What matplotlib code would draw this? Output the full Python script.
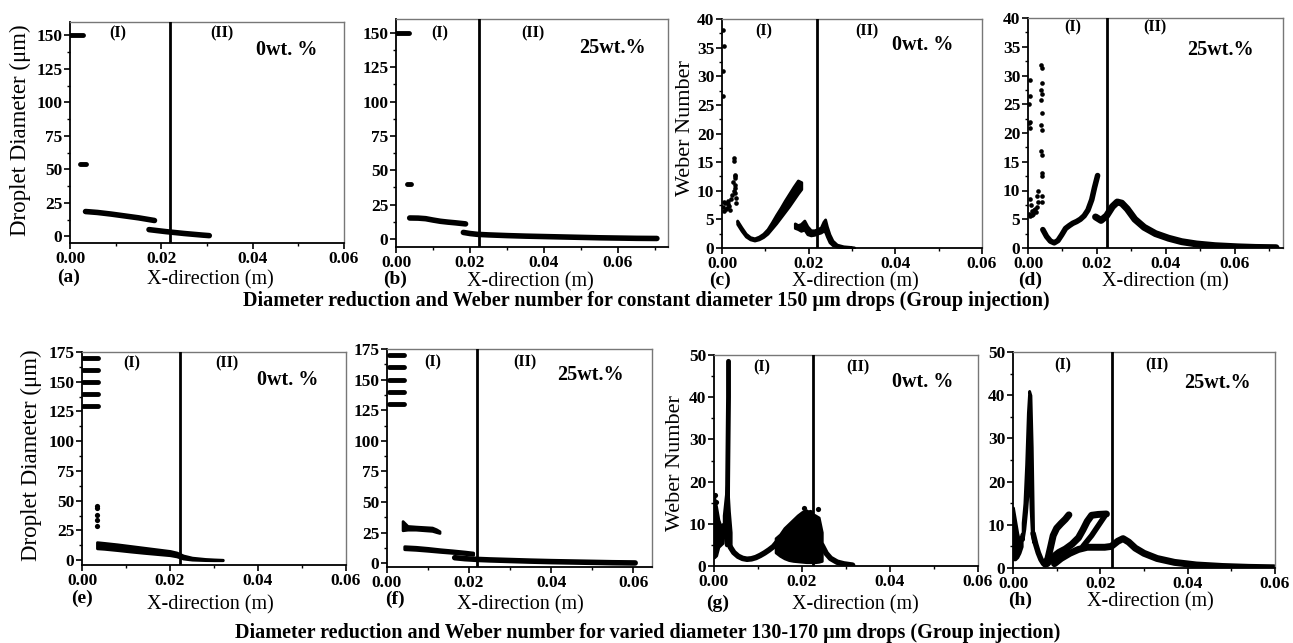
import matplotlib.pyplot as plt
from matplotlib.ticker import MultipleLocator, FormatStrFormatter

W, H = 1293, 643

# ---------------- data ----------------
# (a) diameter, constant 150 um, 0 wt.%
A_INJ_X = [0.0, 0.0028]
A_INJ_Y = [150, 150]
A_DOT_X = [0.0021, 0.0034]
A_DOT_Y = [54, 54]
A_B1_X = [0.0034, 0.006, 0.009, 0.012, 0.015, 0.0185]
A_B1_Y = [18.5, 17.8, 16.6, 15.2, 13.8, 11.8]
A_B2_X = [0.0173, 0.019, 0.021, 0.023, 0.025, 0.027, 0.029, 0.0305]
A_B2_Y = [5.0, 4.3, 3.5, 2.8, 2.1, 1.5, 0.9, 0.5]

# (b) diameter, constant 150 um, 25 wt.%
B_INJ_X = [0.0, 0.0035]
B_INJ_Y = [150, 150]
B_DOT_X = [0.0030, 0.0040]
B_DOT_Y = [40, 40]
B_B1_X = [0.0037, 0.006, 0.008, 0.010, 0.012, 0.014, 0.016, 0.0188]
B_B1_Y = [15.3, 15.2, 14.8, 13.8, 12.9, 12.3, 11.8, 11.0]
B_B2_X = [0.0182, 0.020, 0.022, 0.025, 0.030, 0.035, 0.040, 0.045, 0.050, 0.055, 0.060, 0.065, 0.0705]
B_B2_Y = [4.8, 4.0, 3.4, 3.0, 2.5, 2.1, 1.8, 1.5, 1.2, 0.9, 0.7, 0.5, 0.4]

# (c) Weber number, constant 150 um, 0 wt.%
C_DOT_X = [0.0003, 0.0004, 0.0003, 0.0003,
           0.0002, 0.0005, 0.0008, 0.0011, 0.0014, 0.0017, 0.0020, 0.0004, 0.0009, 0.0013, 0.0018, 0.0022,
           0.0027, 0.0028, 0.0029, 0.0030, 0.0031, 0.0029, 0.0030, 0.0032, 0.0028, 0.0031, 0.0033, 0.0026]
C_DOT_Y = [38.0, 35.2, 31.0, 26.5,
           7.2, 6.5, 7.8, 7.0, 8.2, 7.4, 8.6, 8.0, 6.8, 7.6, 6.6, 9.2,
           15.8, 15.2, 12.8, 12.2, 11.0, 10.4, 9.6, 8.8, 9.9, 12.6, 7.8, 11.6]
C_B1_X = [0.0035, 0.0045, 0.0055, 0.0065, 0.0075, 0.0085, 0.0095, 0.0105,
          0.0115, 0.0125, 0.0135, 0.0145, 0.0155, 0.0165, 0.0175, 0.0183]
C_B1_LO = [4.2, 3.0, 2.0, 1.5, 1.3, 1.5, 1.9, 2.5, 3.4, 4.3, 5.3, 6.3, 7.3, 8.4, 9.5, 10.3]
C_B1_HI = [4.8, 3.6, 2.5, 1.9, 1.7, 2.0, 2.5, 3.3, 4.5, 5.8, 7.0, 8.3, 9.5, 10.7, 11.8, 11.5]
C_B2_X = [0.0168, 0.0175, 0.0182, 0.0190, 0.0197, 0.0205, 0.0213, 0.0220, 0.0228,
          0.0234, 0.0238, 0.0242, 0.0248, 0.0255, 0.0265, 0.0280, 0.0295, 0.0305]
C_B2_LO = [3.5, 3.3, 3.0, 3.2, 2.4, 2.2, 2.3, 2.5, 2.7, 3.0, 2.8, 2.0, 1.0, 0.5, 0.25, 0.1, 0.05, 0.0]
C_B2_HI = [4.3, 4.0, 4.2, 4.8, 3.8, 3.1, 3.1, 3.3, 3.6, 4.6, 5.0, 3.8, 2.4, 1.3, 0.6, 0.3, 0.2, 0.1]

# (d) Weber number, constant 150 um, 25 wt.%
D_DOT_X = [0.0005, 0.0005, 0.0004, 0.0005, 0.0004, 0.0005,
           0.0003, 0.0007, 0.0011, 0.0015, 0.0019, 0.0023, 0.0027, 0.0030, 0.0005, 0.0009, 0.0013, 0.0017, 0.0026, 0.0029,
           0.0039, 0.0040, 0.0040, 0.0039, 0.0040, 0.0039, 0.0040, 0.0039, 0.0040, 0.0039, 0.0040, 0.0041, 0.0041, 0.0040, 0.0041]
D_DOT_Y = [29.2, 26.4, 25.0, 22.0, 21.7, 20.9,
           6.0, 5.6, 6.4, 6.0, 6.8, 6.2, 7.2, 8.0, 8.6, 7.4, 5.8, 6.6, 9.0, 10.0,
           31.9, 31.3, 28.7, 27.5, 26.7, 25.8, 23.5, 21.4, 20.6, 16.8, 16.2, 13.0, 12.5, 9.0, 8.0]
D_B1_X = [0.0043, 0.0054, 0.0065, 0.0076, 0.0087, 0.0098, 0.0109, 0.0120,
          0.0130, 0.0141, 0.0152, 0.0163, 0.0174, 0.0185, 0.0193, 0.0202]
D_B1_Y = [3.2, 2.0, 1.2, 0.9, 1.3, 2.3, 3.4, 3.9, 4.3, 4.6, 5.0, 5.6, 6.6, 8.4, 10.5, 12.6]
D_B2_X = [0.0196, 0.0212, 0.0228, 0.0245, 0.0259, 0.0272, 0.0288, 0.0310, 0.0337,
          0.0370, 0.0408, 0.0446, 0.0489, 0.0543, 0.0609, 0.0660, 0.0720]
D_B2_Y = [5.4, 4.8, 5.6, 7.2, 8.0, 7.8, 6.8, 5.0, 3.6, 2.5, 1.7, 1.1, 0.7, 0.4, 0.2, 0.1, 0.05]

# (e) diameter, varied 130-170 um, 0 wt.%
E_INJ_Y = [130, 140, 150, 160, 170]
E_INJ_X0, E_INJ_X1 = 0.0003, 0.0036
E_DOT_X = [0.0033, 0.0033, 0.0033, 0.0033, 0.0033]
E_DOT_Y = [46.0, 43.5, 38.4, 33.6, 28.8]
E_B_X = [0.0034, 0.005, 0.008, 0.011, 0.014, 0.017, 0.020, 0.0215, 0.023, 0.025, 0.028, 0.030, 0.032]
E_B_LO = [10.0, 9.6, 8.5, 7.3, 6.2, 5.2, 4.2, 3.2, 1.4, 0.5, 0.1, 0.0, 0.0]
E_B_HI = [15.2, 14.6, 13.4, 12.0, 10.6, 9.2, 7.8, 6.5, 4.0, 2.2, 1.1, 0.7, 0.4]

# (f) diameter, varied 130-170 um, 25 wt.%
F_INJ_Y = [130, 140, 150, 160, 170]
F_INJ_X0, F_INJ_X1 = 0.0004, 0.0042
F_UP_X = [0.0038, 0.005, 0.007, 0.009, 0.011, 0.012, 0.0128]
F_UP_LO = [27.0, 27.5, 27.5, 27.0, 26.5, 25.5, 24.8]
F_UP_HI = [34.5, 30.5, 30.0, 29.6, 29.2, 27.8, 26.2]
F_MID_X = [0.0042, 0.007, 0.010, 0.013, 0.016, 0.019, 0.0210]
F_MID_LO = [11.5, 11.0, 10.2, 9.3, 8.5, 7.6, 7.0]
F_MID_HI = [14.0, 13.5, 12.6, 11.5, 10.6, 9.6, 8.8]
F_LOW_X = [0.0165, 0.019, 0.022, 0.025, 0.030, 0.035, 0.040, 0.045, 0.050, 0.055, 0.0605]
F_LOW_Y = [4.6, 3.8, 3.2, 2.8, 2.3, 1.8, 1.4, 1.1, 0.8, 0.5, 0.3]

# (g) Weber number, varied 130-170 um, 0 wt.%
G_CL_X = [0.0, 0.0005, 0.0010, 0.0015, 0.0020]
G_CL_LO = [2.0, 2.5, 4.5, 5.0, 5.5]
G_CL_HI = [16.5, 14.0, 11.0, 9.5, 10.0]
G_COL_X = [0.0030, 0.0031, 0.0032, 0.0033, 0.0033]
G_COL_Y = [5.0, 20.0, 30.0, 40.0, 48.5]
G_BASE_X = [0.0022, 0.0026, 0.0030, 0.0034, 0.0038]
G_BASE_LO = [8.0, 6.0, 5.0, 5.0, 4.5]
G_BASE_HI = [12.0, 16.0, 20.0, 13.0, 8.0]
G_B1_X = [0.0037, 0.0045, 0.0055, 0.0065, 0.0075, 0.0085, 0.0095, 0.0105, 0.0115, 0.0125, 0.0135, 0.0143]
G_B1_Y = [4.5, 3.2, 2.3, 1.8, 1.6, 1.7, 2.0, 2.5, 3.1, 3.8, 4.6, 5.6]
G_CLOUD_X = [0.0140, 0.0150, 0.0160, 0.0170, 0.0180, 0.0190, 0.0200, 0.0210, 0.0220, 0.0230, 0.0238, 0.0245]
G_CLOUD_LO = [3.2, 2.4, 1.8, 1.4, 1.2, 1.1, 1.0, 0.9, 0.9, 0.9, 1.0, 1.2]
G_CLOUD_HI = [6.6, 7.5, 9.0, 10.0, 11.0, 12.0, 12.8, 13.2, 12.5, 12.0, 11.5, 8.0]
G_TAIL_X = [0.0245, 0.0255, 0.0265, 0.0280, 0.0295, 0.0315]
G_TAIL_Y = [5.0, 3.0, 1.8, 0.9, 0.5, 0.2]
G_DOT_X = [0.0205, 0.0236, 0.0218, 0.0226, 0.0002, 0.0004]
G_DOT_Y = [13.8, 13.4, 12.8, 11.8, 16.8, 15.2]

# (h) Weber number, varied 130-170 um, 25 wt.%
H_CL_X = [0.0, 0.0005, 0.0010, 0.0015, 0.0020]
H_CL_LO = [2.0, 2.0, 2.5, 3.5, 5.0]
H_CL_HI = [14.0, 11.0, 8.0, 6.0, 8.0]
H_COL_X = [0.0022, 0.0026, 0.0030, 0.0034, 0.0037, 0.0040, 0.0043, 0.0046]
H_COL_LO = [6.5, 9.0, 13.0, 18.0, 25.0, 14.0, 8.0, 6.0]
H_COL_HI = [10.5, 15.0, 24.0, 36.0, 41.0, 40.0, 28.0, 9.0]
H_DN_X = [0.0046, 0.0052, 0.0058, 0.0064, 0.0070, 0.0074]
H_DN_Y = [8.0, 5.5, 3.5, 2.0, 1.0, 0.8]
H_B1_X = [0.0074, 0.0080, 0.0086, 0.0092, 0.0100, 0.0110, 0.0120, 0.0128]
H_B1_Y = [0.9, 2.2, 4.8, 7.5, 9.2, 10.3, 11.3, 12.3]
H_B2_X = [0.0078, 0.0090, 0.0105, 0.0120, 0.0135, 0.0150, 0.0160, 0.0170, 0.0180, 0.0195, 0.0214]
H_B2_Y = [1.0, 2.4, 3.6, 4.4, 5.5, 7.0, 8.8, 10.8, 12.2, 12.4, 12.5]
H_B3_X = [0.0095, 0.0110, 0.0130, 0.0150, 0.0170, 0.0190, 0.0210, 0.0225, 0.0240, 0.0252,
          0.0265, 0.0280, 0.0300, 0.0330, 0.0370, 0.0420, 0.0480, 0.0540, 0.0598]
H_B3_Y = [1.0, 2.2, 3.4, 4.3, 4.8, 4.8, 4.8, 5.0, 6.2, 6.8, 6.0, 4.6, 3.4, 2.2, 1.3, 0.7, 0.35, 0.15, 0.05]
H_B4_X = [0.0160, 0.0180, 0.0200, 0.0210]
H_B4_Y = [5.0, 7.5, 10.5, 12.0]

CAPTION_TOP = 'Diameter reduction and Weber number for constant diameter 150 \u03bcm drops (Group injection)'
CAPTION_BOT = 'Diameter reduction and Weber number for varied diameter 130-170 \u03bcm drops (Group injection)'

# ---------------- drawing ----------------
plt.rcParams['font.family'] = ['Liberation Serif', 'DejaVu Serif']
plt.rcParams['font.weight'] = 'bold'
plt.rcParams['axes.linewidth'] = 1.3

fig = plt.figure(figsize=(W / 100, H / 100), dpi=100)


def px_axes(l, t, r, b):
    return fig.add_axes([l / W, 1 - b / H, (r - l) / W, (b - t) / H])


def ftext(x, y, s, **kw):
    fig.text(x / W, 1 - y / H, s, ha='center', va='center', **kw)


def line(ax, x, y, lw=3.5):
    ax.plot(x, y, color='k', lw=lw, solid_capstyle='round', solid_joinstyle='round', zorder=2)


def band(ax, x, lo, hi, lw=2.0):
    ax.fill_between(x, lo, hi, facecolor='k', edgecolor='k', lw=lw, joinstyle='round', zorder=2)


def dots(ax, x, y, s=11):
    ax.scatter(x, y, s=s, color='k', lw=0, zorder=2)


def style(ax, xmax, ylim, ymajor, divider):
    ax.set_xlim(0, xmax)
    ax.set_ylim(*ylim)
    ax.xaxis.set_major_locator(MultipleLocator(0.02))
    ax.xaxis.set_minor_locator(MultipleLocator(0.01))
    ax.xaxis.set_major_formatter(FormatStrFormatter('%.2f'))
    ax.yaxis.set_major_locator(MultipleLocator(ymajor))
    ax.yaxis.set_minor_locator(MultipleLocator(ymajor / 2))
    ax.tick_params(which='major', direction='out', length=4, width=1.2, labelsize=12.5, pad=1.5)
    ax.tick_params(which='minor', direction='out', length=2.5, width=1.0)
    for s in ('top', 'right'):
        ax.spines[s].set_color('#777777')
        ax.spines[s].set_linewidth(1.0)
    ax.axvline(divider, color='k', lw=2.0, zorder=3)


# top row
axa = px_axes(70, 22, 344, 243)
line(axa, A_INJ_X, A_INJ_Y)
line(axa, A_DOT_X, A_DOT_Y)
line(axa, A_B1_X, A_B1_Y, lw=4)
line(axa, A_B2_X, A_B2_Y, lw=4)
style(axa, 0.06, (-5, 160), 25, 0.022)

axb = px_axes(396, 19, 668, 247)
line(axb, B_INJ_X, B_INJ_Y)
line(axb, B_DOT_X, B_DOT_Y)
line(axb, B_B1_X, B_B1_Y, lw=4)
line(axb, B_B2_X, B_B2_Y, lw=4)
style(axb, 0.0735, (-5.8, 160), 25, 0.0224)

axc = px_axes(722, 19, 982, 248)
dots(axc, C_DOT_X, C_DOT_Y)
band(axc, C_B1_X, C_B1_LO, C_B1_HI)
band(axc, C_B2_X, C_B2_LO, C_B2_HI)
style(axc, 0.06, (0, 40), 5, 0.022)

axd = px_axes(1028, 18, 1283, 248)
dots(axd, D_DOT_X, D_DOT_Y)
line(axd, D_B1_X, D_B1_Y, lw=4)
line(axd, D_B2_X, D_B2_Y, lw=5)
style(axd, 0.074, (0, 40), 5, 0.023)

# bottom row
axe = px_axes(82, 352, 346, 565)
axe.hlines(E_INJ_Y, E_INJ_X0, E_INJ_X1, color='k', lw=3.5, capstyle='round', zorder=2)
dots(axe, E_DOT_X, E_DOT_Y, s=14)
band(axe, E_B_X, E_B_LO, E_B_HI)
style(axe, 0.06, (-4, 175), 25, 0.0223)

axf = px_axes(387, 349, 652, 567)
axf.hlines(F_INJ_Y, F_INJ_X0, F_INJ_X1, color='k', lw=3.5, capstyle='round', zorder=2)
band(axf, F_UP_X, F_UP_LO, F_UP_HI)
band(axf, F_MID_X, F_MID_LO, F_MID_HI)
line(axf, F_LOW_X, F_LOW_Y, lw=4)
style(axf, 0.0646, (-3, 175), 25, 0.022)

axg = px_axes(714, 355, 978, 566)
band(axg, G_CL_X, G_CL_LO, G_CL_HI)
line(axg, G_COL_X, G_COL_Y, lw=3.5)
band(axg, G_BASE_X, G_BASE_LO, G_BASE_HI)
line(axg, G_B1_X, G_B1_Y, lw=4)
band(axg, G_CLOUD_X, G_CLOUD_LO, G_CLOUD_HI)
line(axg, G_TAIL_X, G_TAIL_Y, lw=4)
dots(axg, G_DOT_X, G_DOT_Y, s=14)
style(axg, 0.06, (0, 50), 10, 0.0225)

axh = px_axes(1013, 352, 1275, 568)
band(axh, H_CL_X, H_CL_LO, H_CL_HI)
band(axh, H_COL_X, H_COL_LO, H_COL_HI)
line(axh, H_DN_X, H_DN_Y, lw=4)
line(axh, H_B1_X, H_B1_Y, lw=5)
line(axh, H_B2_X, H_B2_Y, lw=5)
line(axh, H_B3_X, H_B3_Y, lw=5)
line(axh, H_B4_X, H_B4_Y, lw=4)
style(axh, 0.06, (0, 50), 10, 0.0227)

# axis titles
ftext(20, 130, 'Droplet Diameter (\u03bcm)', rotation=90, fontsize=16.5, fontweight='normal')
ftext(685, 128, 'Weber Number', rotation=90, fontsize=16, fontweight='normal')
ftext(31, 455, 'Droplet Diameter (\u03bcm)', rotation=90, fontsize=16.5, fontweight='normal')
ftext(675, 463, 'Weber Number', rotation=90, fontsize=16, fontweight='normal')
for x, y in [(210, 280), (530, 282), (855, 282), (1165, 282),
             (210, 605), (520, 605), (855, 605), (1150, 602)]:
    ftext(x, y, 'X-direction (m)', fontsize=14.5, fontweight='normal')

# panel letters
for x, y, s in [(69, 277, '(a)'), (395, 279, '(b)'), (720, 280, '(c)'), (1030, 280, '(d)'),
                (82, 598, '(e)'), (395, 599, '(f)'), (718, 603, '(g)'), (1020, 600, '(h)')]:
    ftext(x, y, s, fontsize=14)

# region marks and concentrations
for x1, x2, y in [(118, 222, 33), (440, 533, 33), (764, 867, 31), (1073, 1155, 27),
                  (132, 227, 363), (433, 525, 362), (762, 858, 367), (1063, 1157, 365)]:
    ftext(x1, y, '(I)', fontsize=11.5)
    ftext(x2, y, '(II)', fontsize=11.5)
for x, y, s in [(287, 50, '0wt. %'), (612, 48, '25wt.%'), (923, 45, '0wt. %'), (1220, 50, '25wt.%'),
                (288, 380, '0wt. %'), (590, 375, '25wt.%'), (923, 382, '0wt. %'), (1217, 383, '25wt.%')]:
    ftext(x, y, s, fontsize=14.5)

ftext(646, 301, CAPTION_TOP, fontsize=14.5)
ftext(648, 633, CAPTION_BOT, fontsize=14.5)

fig.savefig('out.png', dpi=100)
